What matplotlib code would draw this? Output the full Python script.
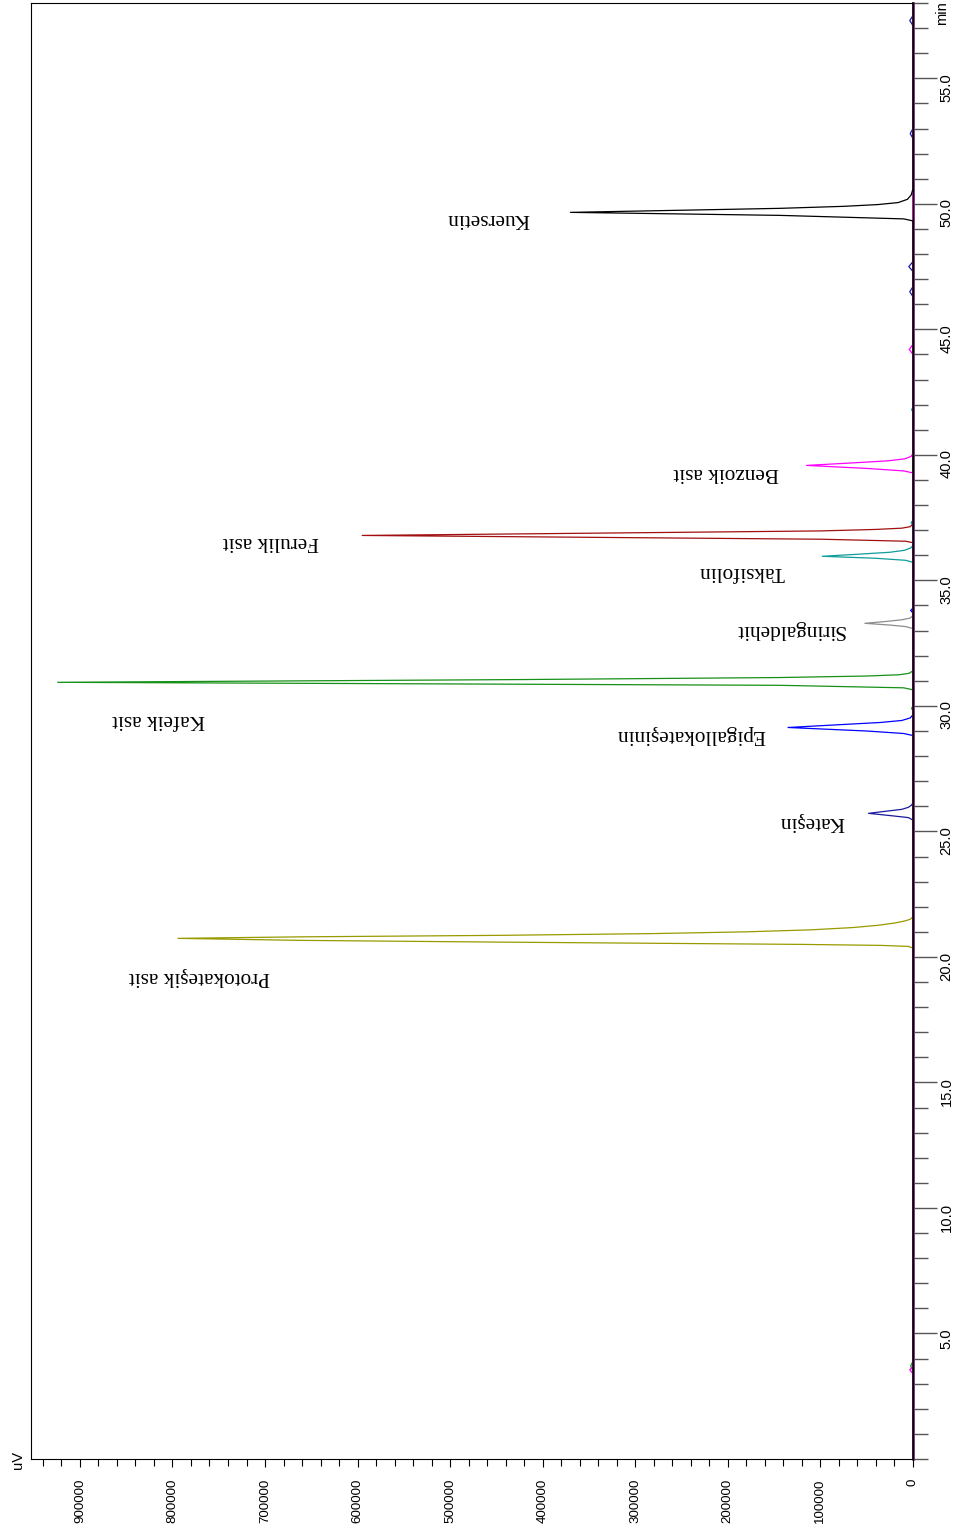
import numpy as np
import matplotlib
matplotlib.use("Agg")
import matplotlib.pyplot as plt
import matplotlib.ticker as mtick
from matplotlib import font_manager

# retention time (min) / signal (uV) points
t_olive = [0, 20.35, 20.42, 20.46, 20.50, 20.59, 20.66, 20.74, 20.80, 20.86, 20.93, 21.00, 21.08, 21.17, 21.26, 21.35, 21.43, 21.50, 21.60, 58]
y_olive = [0, 0, 5000, 35000, 122000, 446000, 662000, 794000, 662000, 446000, 280000, 180000, 110000, 65000, 38000, 20000, 9000, 3000, 0, 0]

t_navy = [0, 25.45, 25.55, 25.62, 25.72, 25.80, 25.88, 25.96, 26.05, 26.15, 46.3, 46.5, 46.7, 47.3, 47.5, 47.7, 52.6, 52.8, 53.0, 57.1, 57.3, 57.5, 58]
y_navy = [0, 0, 5000, 22000, 48000, 30000, 12000, 5000, 1500, 0, 0, 3500, 0, 0, 4500, 0, 0, 3000, 0, 0, 3500, 0, 0]

t_blue = [0, 28.82, 28.90, 29.00, 29.14, 29.24, 29.34, 29.42, 29.52, 29.65, 33.7, 33.8, 33.9, 58]
y_blue = [0, 0, 10000, 50000, 135000, 85000, 35000, 12000, 3000, 0, 0, 2500, 0, 0]

t_green = [0, 3.5, 3.7, 3.9, 29.8, 29.9, 30.0, 30.64, 30.72, 30.82, 30.94, 31.05, 31.13, 31.19, 31.24, 31.30, 31.40, 58]
y_green = [0, 0, 2500, 0, 0, 1500, 0, 0, 10000, 144000, 924000, 420000, 144000, 50000, 15000, 4000, 0, 0]

t_gray = [0, 33.08, 33.16, 33.22, 33.29, 33.36, 33.43, 33.50, 33.60, 58]
y_gray = [0, 0, 8000, 25000, 52000, 30000, 12000, 3000, 0, 0]

t_teal = [0, 35.72, 35.80, 35.88, 35.96, 36.04, 36.12, 36.20, 36.30, 36.40, 37.2, 37.3, 37.4, 41.7, 41.8, 41.9, 58]
y_teal = [0, 0, 8000, 40000, 98000, 60000, 25000, 9000, 2000, 0, 0, 2000, 0, 0, 1500, 0, 0]

t_red = [0, 36.50, 36.56, 36.64, 36.79, 36.97, 37.03, 37.08, 37.14, 37.25, 58]
y_red = [0, 0, 8000, 100000, 595000, 100000, 40000, 12000, 3000, 0, 0]

t_magenta = [0, 3.4, 3.55, 3.7, 39.28, 39.36, 39.46, 39.58, 39.68, 39.76, 39.84, 39.94, 40.05, 44.0, 44.2, 44.4, 58]
y_magenta = [0, 0, 3500, 0, 0, 10000, 50000, 115000, 65000, 28000, 9000, 2000, 0, 0, 4000, 0, 0]

t_black = [0, 49.32, 49.40, 49.54, 49.66, 49.82, 49.90, 49.97, 50.05, 50.18, 50.35, 50.60, 58]
y_black = [0, 0, 10000, 144000, 370000, 144000, 75000, 38000, 16000, 6000, 2000, 0, 0]

traces = [
    (t_olive, y_olive, "#999900"),
    (t_navy, y_navy, "#1a1a9c"),
    (t_blue, y_blue, "#0000ff"),
    (t_green, y_green, "#169016"),
    (t_gray, y_gray, "#8c8c8c"),
    (t_teal, y_teal, "#109c9c"),
    (t_red, y_red, "#a01010"),
    (t_magenta, y_magenta, "#ff00ff"),
    (t_black, y_black, "#000000"),
]

peak_names = ["Protokateşik asit", "Kateşin", "Epigallokateşinin", "Kafeik asit",
              "Siringaldehit", "Taksifolin", "Ferulik asit", "Benzoik asit", "Kuersetin"]
label_t = [19.22, 25.40, 28.86, 29.46, 33.05, 35.36, 36.55, 39.30, 49.42]
label_uv = [771000, 109000, 240000, 815000, 133000, 185000, 694000, 202000, 459000]

uv_ticks = [0, 100000, 200000, 300000, 400000, 500000, 600000, 700000, 800000, 900000]
min_ticks = [5, 10, 15, 20, 25, 30, 35, 40, 45, 50, 55]

installed = {f.name for f in font_manager.fontManager.ttflist}
if "Liberation Sans Narrow" in installed:
    tick_font, xsize, ysize = "Liberation Sans Narrow", 11.5, 12.5
else:
    tick_font, xsize, ysize = "Liberation Sans", 9.6, 10.6

fig = plt.figure(figsize=(9.59, 15.26), dpi=100)
ax = fig.add_axes([31/959, 67/1526, (913-31)/959, (1459-3)/1526])

for t, y, c in traces:
    ax.plot(y, t, color=c, linewidth=0.9, clip_on=False)
# baseline where all traces overlap
ax.plot([0, 0], [0, 58], color="#5a0a6a", linewidth=1.8, clip_on=False, zorder=1)

for name, t, uv in zip(peak_names, label_t, label_uv):
    ax.text(uv, t, name, rotation=180, ha="center", va="center",
            family=["Liberation Serif", "DejaVu Serif"], fontsize=15.3)

ax.set_xlim(952800, 0)
ax.set_ylim(0, 58)

ax.set_xticks(uv_ticks)
ax.set_xticklabels([str(v) for v in uv_ticks], family=tick_font, fontsize=xsize)
ax.xaxis.set_minor_locator(mtick.MultipleLocator(20000))
ax.tick_params(axis="x", which="major", direction="out", length=6, width=0.8,
               labelrotation=90, pad=8)
ax.tick_params(axis="x", which="minor", direction="out", length=5, width=0.8)

ax.yaxis.tick_right()
ax.set_yticks(min_ticks)
ax.set_yticklabels(["%.1f" % v for v in min_ticks], family=tick_font, fontsize=ysize)
ax.yaxis.set_minor_locator(mtick.MultipleLocator(1))
ax.tick_params(axis="y", which="major", direction="out", length=17, width=1.0,
               color="#555555", labelrotation=90, pad=2)
ax.tick_params(axis="y", which="minor", direction="out", length=11, width=1.0,
               color="#555555")

for s in ax.spines.values():
    s.set_linewidth(0.8)

fig.text(942/959, 1 - 13/1526, "min", rotation=90, ha="center", va="center",
         family=tick_font, fontsize=ysize)
fig.text(18/959, 1 - 1460/1526, "uV", rotation=90, ha="center", va="center",
         family=tick_font, fontsize=ysize)

fig.savefig("out.png", dpi=100)
